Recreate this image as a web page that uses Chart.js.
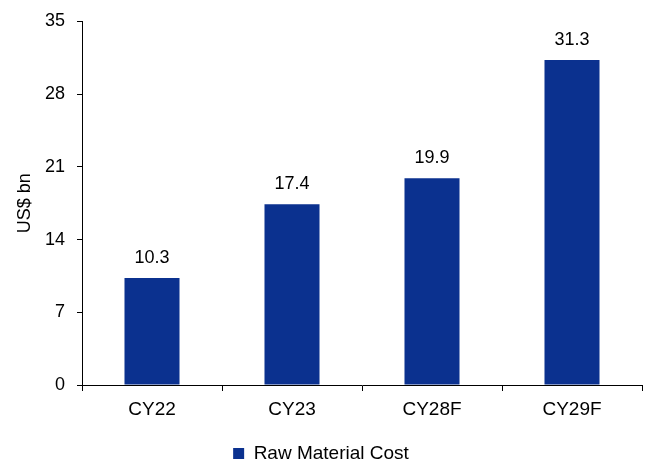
<!DOCTYPE html>
<html>
<head>
<meta charset="utf-8">
<script src="https://cdn.jsdelivr.net/npm/chart.js@4.4.1/dist/chart.umd.min.js"></script>
<style>
  html, body { margin: 0; padding: 0; background: #ffffff; }
  #wrap { width: 645px; height: 463px; }
</style>
</head>
<body>
<div id="wrap"><canvas id="c" width="645" height="463"></canvas></div>
<script>
// Raw material cost by calendar year (US$ bn)
const categories = ['CY22', 'CY23', 'CY28F', 'CY29F'];
const rawMaterialCost = [10.3, 17.4, 19.9, 31.3];
const yTicks = [0, 7, 14, 21, 28, 35];
const seriesName = 'Raw Material Cost';

const FONT = "'Liberation Sans', Arial, sans-serif";
const BAR_COLOR = '#0B318F';

// Writes each bar's value just above it
const valueLabels = {
  id: 'valueLabels',
  afterDatasetsDraw(chart) {
    const ctx = chart.ctx;
    const meta = chart.getDatasetMeta(0);
    ctx.save();
    ctx.font = '18px ' + FONT;
    ctx.fillStyle = '#000000';
    ctx.textAlign = 'center';
    ctx.textBaseline = 'alphabetic';
    meta.data.forEach((bar, i) => {
      ctx.fillText(rawMaterialCost[i].toFixed(1), bar.x, bar.y - 15);
    });
    ctx.restore();
  }
};

new Chart(document.getElementById('c'), {
  type: 'bar',
  data: {
    labels: categories,
    datasets: [{
      label: seriesName,
      data: rawMaterialCost,
      backgroundColor: BAR_COLOR,
      borderWidth: 0,
      barPercentage: 0.786,
      categoryPercentage: 0.5
    }]
  },
  options: {
    responsive: false,
    animation: false,
    devicePixelRatio: 1,
    layout: { padding: { left: 0, right: 3, top: 10, bottom: -10 } },
    plugins: {
      legend: {
        position: 'bottom',
        labels: {
          font: { family: FONT, size: 19 },
          color: '#000000',
          boxWidth: 11,
          boxHeight: 11,
          padding: 0
        }
      },
      tooltip: { enabled: false }
    },
    scales: {
      x: {
        offset: true,
        afterFit(axis) { axis.height = 59; },
        grid: {
          display: true,
          offset: true,
          drawOnChartArea: false,
          drawTicks: true,
          tickLength: 6,
          color: '#000000'
        },
        border: { display: true, color: '#000000', width: 1 },
        ticks: {
          font: { family: FONT, size: 19 },
          color: '#000000',
          padding: 7
        }
      },
      y: {
        min: 0,
        max: 35,
        afterBuildTicks(axis) {
          axis.ticks = yTicks.map(v => ({ value: v }));
        },
        afterFit(axis) { axis.width = 82; },
        grid: {
          display: true,
          drawOnChartArea: false,
          drawTicks: true,
          tickLength: 5,
          color: '#000000'
        },
        border: { display: true, color: '#000000', width: 1 },
        ticks: {
          font: { family: FONT, size: 18, lineHeight: 1.05 },
          color: '#000000',
          padding: 12
        },
        title: {
          display: true,
          text: 'US$ bn',
          font: { family: FONT, size: 18 },
          color: '#000000',
          padding: { top: 14, bottom: 0 }
        }
      }
    }
  },
  plugins: [valueLabels]
});
</script>
</body>
</html>
